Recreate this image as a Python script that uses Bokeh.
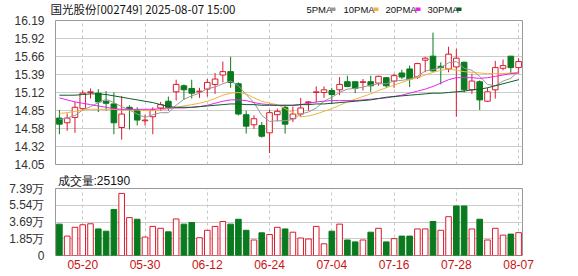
from bokeh.plotting import figure
from bokeh.layouts import column
from bokeh.models import Range1d, FixedTicker, ColumnDataSource
from bokeh.core.properties import value
from bokeh.embed import file_html
from bokeh.resources import INLINE

title_text = "国光股份[002749] 2025-08-07 15:00"
vol_text = "成交量:25190"

dates = ["05-15", "05-16", "05-19", "05-20", "05-21", "05-22", "05-23", "05-26", "05-27", "05-28",
         "05-29", "05-30", "06-03", "06-04", "06-05", "06-06", "06-09", "06-10", "06-11", "06-12",
         "06-13", "06-16", "06-17", "06-18", "06-19", "06-20", "06-23", "06-24", "06-25", "06-26",
         "06-27", "06-30", "07-01", "07-02", "07-03", "07-04", "07-07", "07-08", "07-09", "07-10",
         "07-11", "07-14", "07-15", "07-16", "07-17", "07-18", "07-21", "07-22", "07-23", "07-24",
         "07-25", "07-28", "07-29", "07-30", "07-31", "08-01", "08-04", "08-05", "08-06", "08-07"]

opens = [14.74, 14.67, 14.75, 14.88, 15.12, 15.11, 14.99, 14.95, 14.60, 14.90,
         14.86, 14.70, 14.76, 14.89, 14.99, 15.13, 15.22, 15.18, 15.13, 15.17,
         15.24, 15.38, 15.43, 15.25, 14.79, 14.64, 14.63, 14.52, 14.79, 14.90,
         14.73, 14.80, 14.97, 15.12, 15.12, 15.15, 15.16, 15.28, 15.28, 15.27,
         15.28, 15.26, 15.34, 15.29, 15.41, 15.47, 15.35, 15.60, 15.66, 15.51,
         15.47, 15.50, 15.57, 15.16, 15.28, 14.99, 15.16, 15.48, 15.66, 15.49]
closes = [14.65, 14.74, 14.90, 15.11, 15.13, 14.98, 14.96, 14.67, 14.80, 14.87,
          14.71, 14.71, 14.86, 14.94, 14.90, 15.24, 15.16, 15.11, 15.14, 15.27,
          15.32, 15.43, 15.27, 14.80, 14.62, 14.73, 14.47, 14.82, 14.84, 14.65,
          14.80, 14.89, 14.98, 15.13, 15.16, 15.09, 15.24, 15.21, 15.18, 15.28,
          15.22, 15.36, 15.22, 15.37, 15.35, 15.32, 15.55, 15.63, 15.44, 15.49,
          15.69, 15.63, 15.16, 15.29, 15.01, 15.13, 15.49, 15.52, 15.49, 15.58]
highs = [14.86, 14.81, 14.98, 15.15, 15.18, 15.17, 15.14, 15.12, 15.07, 14.93,
         14.90, 14.79, 14.90, 14.98, 15.06, 15.31, 15.24, 15.31, 15.19, 15.32,
         15.41, 15.58, 15.65, 15.27, 14.85, 14.78, 14.68, 14.86, 14.88, 14.93,
         14.91, 15.04, 14.99, 15.21, 15.21, 15.19, 15.35, 15.37, 15.28, 15.32,
         15.37, 15.37, 15.35, 15.40, 15.46, 15.52, 15.56, 15.65, 16.01, 15.57,
         15.80, 15.77, 15.58, 15.40, 15.30, 15.19, 15.59, 15.61, 15.66, 15.63]
lows = [14.50, 14.55, 14.52, 14.85, 15.03, 14.83, 14.85, 14.50, 14.42, 14.57,
        14.63, 14.63, 14.50, 14.85, 14.85, 15.00, 15.01, 15.03, 15.04, 15.06,
        15.10, 15.27, 15.19, 14.78, 14.51, 14.58, 14.45, 14.22, 14.69, 14.51,
        14.68, 14.76, 14.85, 14.97, 15.04, 14.95, 15.08, 15.20, 15.11, 15.15,
        15.13, 15.22, 15.19, 15.19, 15.32, 15.20, 15.32, 15.42, 15.43, 15.24,
        15.42, 14.76, 15.12, 15.10, 14.86, 14.98, 15.03, 15.45, 15.40, 15.40]

ma5 = [14.72, 14.74, 14.78, 14.86, 14.91, 14.97, 15.02, 14.97, 14.91, 14.86,
       14.80, 14.75, 14.79, 14.82, 14.82, 14.93, 15.02, 15.07, 15.11, 15.18,
       15.20, 15.25, 15.29, 15.22, 15.09, 14.97, 14.78, 14.69, 14.70, 14.70,
       14.72, 14.80, 14.83, 14.89, 14.99, 15.05, 15.12, 15.17, 15.18, 15.20,
       15.23, 15.25, 15.25, 15.29, 15.30, 15.32, 15.36, 15.44, 15.46, 15.49,
       15.56, 15.58, 15.48, 15.45, 15.36, 15.24, 15.22, 15.29, 15.33, 15.44]
ma10 = [14.81, 14.82, 14.84, 14.86, 14.87, 14.87, 14.87, 14.87, 14.86, 14.86,
        14.86, 14.85, 14.85, 14.86, 14.88, 14.90, 14.92, 14.94, 14.96, 14.99,
        15.03, 15.08, 15.11, 15.12, 15.10, 15.04, 14.99, 14.96, 14.94, 14.88,
        14.82, 14.76, 14.77, 14.80, 14.84, 14.88, 14.93, 14.98, 15.02, 15.06,
        15.10, 15.15, 15.19, 15.23, 15.27, 15.31, 15.34, 15.38, 15.42, 15.45,
        15.47, 15.45, 15.43, 15.42, 15.41, 15.40, 15.40, 15.40, 15.41, 15.42]
ma20 = [15.04, 15.01, 14.98, 14.96, 14.94, 14.92, 14.90, 14.88, 14.87, 14.87,
        14.87, 14.87, 14.87, 14.88, 14.89, 14.89, 14.89, 14.90, 14.91, 14.93,
        14.96, 14.99, 15.01, 15.01, 15.00, 14.97, 14.95, 14.94, 14.93, 14.93,
        14.93, 14.94, 14.96, 14.98, 14.99, 15.00, 15.00, 15.00, 15.00, 15.01,
        15.02, 15.03, 15.04, 15.06, 15.08, 15.11, 15.14, 15.17, 15.21, 15.26,
        15.31, 15.34, 15.34, 15.34, 15.33, 15.34, 15.36, 15.38, 15.40, 15.41]
ma30 = [15.08, 15.08, 15.08, 15.09, 15.10, 15.10, 15.09, 15.07, 15.05, 15.03,
        15.01, 14.99, 14.97, 14.94, 14.91, 14.90, 14.90, 14.90, 14.91, 14.92,
        14.93, 14.94, 14.95, 14.95, 14.94, 14.94, 14.93, 14.93, 14.93, 14.93,
        14.93, 14.94, 14.94, 14.95, 14.95, 14.96, 14.97, 14.98, 14.99, 15.00,
        15.01, 15.03, 15.05, 15.06, 15.07, 15.08, 15.09, 15.10, 15.11, 15.11,
        15.12, 15.13, 15.14, 15.16, 15.17, 15.19, 15.22, 15.25, 15.28, 15.31]

volumes = [34600, 21400, 31100, 33900, 35000, 29300, 26800, 50700, 68500, 41800,
           40000, 20300, 32100, 30000, 26100, 40300, 34600, 36400, 19600, 27800,
           32100, 37500, 34600, 40000, 27800, 17100, 25000, 23200, 31100, 29300,
           25700, 19300, 18200, 32100, 12900, 26800, 34600, 17100, 15000, 17100,
           25700, 30000, 15000, 18600, 21400, 21400, 29300, 29300, 37500, 27800,
           42800, 54600, 54600, 29300, 40000, 17100, 30000, 22500, 23600, 25190]
vol_up = [0, 1, 1, 1, 1, 0, 0, 0, 1, 1, 0, 1, 1, 1, 0, 1, 0, 0, 1, 1,
          1, 1, 0, 0, 0, 1, 0, 1, 1, 0, 1, 1, 1, 1, 1, 0, 1, 0, 0, 1,
          0, 1, 0, 1, 0, 0, 1, 1, 0, 1, 1, 0, 0, 1, 0, 1, 1, 1, 0, 1]

price_ticks = [14.05, 14.3175, 14.585, 14.8525, 15.12, 15.3875, 15.655, 15.9225, 16.19]
price_labels = ["14.05", "14.32", "14.58", "14.85", "15.12", "15.39", "15.66", "15.92", "16.19"]
vol_ticks = [0, 18475, 36950, 55425, 73900]
vol_labels = ["0", "1.85万", "3.69万", "5.54万", "7.39万"]
date_tick_idx = [3, 11, 19, 27, 35, 43, 51, 59]

legend_names = ["5PMA", "10PMA", "20PMA", "30PMA"]
ma_colors = ["#999999", "#f0b43c", "#ee22ee", "#0b5e2a"]

# header layout (pixel positions of texts in the 578 x 15 header strip)
leg_text_x = [306, 343, 385, 427]
leg_box_x = [330, 373, 415, 456]

RED = "#dd1a2e"
GREEN = "#0a7a1e"
W = 578
N = len(dates)
xs = list(range(N))

up = [c >= o for o, c in zip(opens, closes)]
src = ColumnDataSource(dict(
    x=xs, o=opens, c=closes, h=highs, l=lows,
    top=[max(o, c) for o, c in zip(opens, closes)],
    bot=[min(o, c) for o, c in zip(opens, closes)],
    col=[RED if u else GREEN for u in up],
    fill=["white" if u else GREEN for u in up],
))
vsrc = ColumnDataSource(dict(
    x=xs, v=volumes,
    col=[RED if u else GREEN for u in vol_up],
    fill=["white" if u else GREEN for u in vol_up],
))

# ---------- header strip: title + MA legend ----------
HH = 15
p0 = figure(width=W, height=HH, x_range=Range1d(0, W), y_range=Range1d(HH, 0),
            output_backend="svg", toolbar_location=None, x_axis_location=None, y_axis_location=None,
            min_border=0, min_border_left=0, min_border_right=0, min_border_top=0, min_border_bottom=0)
p0.frame_align = False
p0.outline_line_color = None
p0.xgrid.visible = False
p0.ygrid.visible = False
p0.text(x=[50], y=[8], text=[title_text], text_font=value("Noto Sans CJK SC"),
        text_font_size="11.5px", text_color="#111111", text_baseline="middle", text_align="left")
p0.text(x=leg_text_x, y=[8.5] * 4, text=legend_names, text_font=value("Liberation Sans"),
        text_font_size="9.5px", text_color="#111111", text_baseline="middle", text_align="left")
p0.quad(left=leg_box_x, right=[b + 5 for b in leg_box_x], top=[7] * 4, bottom=[10.5] * 4,
        fill_color=ma_colors, line_color=None)


def style(p):
    p.background_fill_color = "white"
    p.border_fill_color = "white"
    p.outline_line_color = "#999999"
    p.outline_line_width = 1
    p.ygrid.grid_line_color = "#cccccc"
    p.xgrid.grid_line_color = "#c8c8c8"
    p.xgrid.grid_line_dash = "3 3"
    p.xgrid.ticker = FixedTicker(ticks=date_tick_idx)
    for ax in p.yaxis:
        ax.axis_line_color = None
        ax.major_tick_line_color = None
        ax.minor_tick_line_color = None
        ax.major_label_text_font = "Liberation Sans"
        ax.major_label_text_font_size = "12px"
        ax.major_label_text_color = "#333333"
        ax.major_label_standoff = 5


# ---------- price panel ----------
p1 = figure(width=W, height=156, x_range=Range1d(-0.5, N - 0.5), y_range=Range1d(14.05, 16.19),
            output_backend="svg", toolbar_location=None, x_axis_location=None,
            min_border_left=55, min_border_right=56, min_border_top=5, min_border_bottom=7)
style(p1)
p1.yaxis.ticker = FixedTicker(ticks=price_ticks)
p1.yaxis.major_label_overrides = {t: s for t, s in zip(price_ticks, price_labels)}
p1.ygrid.ticker = FixedTicker(ticks=price_ticks)

p1.segment(x0="x", y0="l", x1="x", y1="h", color="col", line_width=1, source=src)
p1.vbar(x="x", bottom="bot", top="top", width=0.72, fill_color="fill", line_color="col",
        line_width=1, source=src)
for arr, colr in zip([ma5, ma10, ma20, ma30], ma_colors):
    p1.line(xs, arr, line_color=colr, line_width=1)

# ---------- volume panel ----------
p2 = figure(width=W, height=105, x_range=p1.x_range, y_range=Range1d(0, 73900),
            output_backend="svg", toolbar_location=None,
            min_border_left=55, min_border_right=56, min_border_top=15, min_border_bottom=21)
style(p2)
p2.title.text = vol_text
p2.title.align = "left"
p2.title.offset = 2
p2.title.standoff = 1
p2.title.text_font = "Liberation Sans"
p2.title.text_font_size = "12px"
p2.title.text_font_style = "normal"
p2.title.text_color = "#111111"
p2.yaxis.ticker = FixedTicker(ticks=vol_ticks)
p2.yaxis.major_label_overrides = {t: s for t, s in zip(vol_ticks, vol_labels)}
p2.ygrid.ticker = FixedTicker(ticks=vol_ticks)
p2.xaxis.ticker = FixedTicker(ticks=date_tick_idx)
p2.xaxis.major_label_overrides = {i: dates[i] for i in date_tick_idx}
p2.xaxis.axis_line_color = None
p2.xaxis.major_tick_line_color = None
p2.xaxis.minor_tick_line_color = None
p2.xaxis.major_tick_in = 0
p2.xaxis.major_tick_out = 0
p2.xaxis.major_label_standoff = 4
p2.xaxis.major_label_text_font = "Liberation Sans"
p2.xaxis.major_label_text_font_size = "12px"
p2.xaxis.major_label_text_color = "#cc1111"

p2.vbar(x="x", bottom=0, top="v", width=0.72, fill_color="fill", line_color="col",
        line_width=1, source=vsrc)

layout = column(p0, p1, p2, spacing=0)
open("out.html", "w").write(file_html(layout, INLINE))
